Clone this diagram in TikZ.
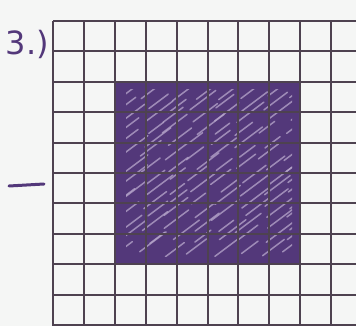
\documentclass[tikz,border=0pt]{standalone}
\usepackage{fontspec}
\setmainfont{DejaVu Sans}
\definecolor{paper}{HTML}{F5F6F5}
\definecolor{gridc}{HTML}{4E4250}
\definecolor{ink}{HTML}{53387A}
\definecolor{inklight}{HTML}{B8A8CC}
\begin{document}
\begin{tikzpicture}[x=1pt,y=-1pt,
  gridline/.style={draw=gridc,line width=2pt},
  streak/.style={draw=inklight,line width=1.5pt,line cap=round,opacity=0.75},
  hand/.style={text=ink,inner sep=0pt,font=\fontsize{32}{32}\selectfont}]
\useasboundingbox (0,0) rectangle (356,326);
\fill[paper] (0,0) rectangle (356,326);
% shaded square
\fill[ink] (116,82) rectangle (301,264);
\begin{scope}
\clip (126,90) rectangle (292,256);
\pgfmathsetseed{7}
\foreach \r in {0,...,13}{
  \foreach \c in {0,...,7}{
    \pgfmathsetmacro{\px}{120+\c*24+rand*6}
    \pgfmathsetmacro{\py}{98+\r*12+rand*3}
    \pgfmathsetmacro{\ln}{14+rnd*14}
    \draw[streak] (\px,\py) -- ++(\ln,{-0.75*\ln});
  }
}
\end{scope}
% grid
\foreach \i in {0,...,10}{
  \draw[gridline] (53,{21+30.4*\i}) -- (356,{21+30.4*\i});
}
\foreach \i in {0,...,9}{
  \draw[gridline] ({53+30.9*\i},21) -- ({53+30.9*\i},326);
}
% labels
\node[hand,anchor=east] (lbl) at (49,44) {3.)};
\coordinate (d1) at (9,186);
\coordinate (d2) at (44,184);
\draw[draw=ink,line width=3pt,line cap=round] (d1) -- (d2);
\end{tikzpicture}
\end{document}
